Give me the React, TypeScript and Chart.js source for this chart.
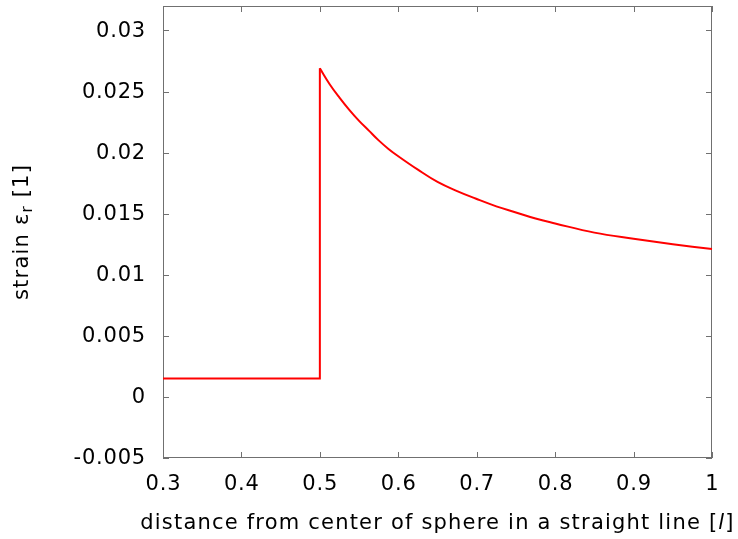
import React, { useEffect, useRef } from "react";
import { Chart, registerables } from "chart.js";

Chart.register(...registerables);

// Flat part inside the sphere and the jump at the surface
const xInner = [0.3, 0.5, 0.5];
const yInner = [0.0015, 0.0015, 0.0269];

// Decay outside the sphere
const xOuter = [0.5, 0.5125, 0.525, 0.5375, 0.55, 0.5625, 0.575, 0.5875, 0.6, 0.625, 0.65, 0.675, 0.7, 0.725, 0.75, 0.775, 0.8, 0.85, 0.9, 0.95, 1.0];
const yOuter = [0.0269, 0.0256, 0.0245, 0.0235, 0.0226, 0.0218, 0.021, 0.0203, 0.0197, 0.0186, 0.0176, 0.01685, 0.0162, 0.0156, 0.0151, 0.0146, 0.0142, 0.01345, 0.01295, 0.0125, 0.0121];

const xTicks = [0.3, 0.4, 0.5, 0.6, 0.7, 0.8, 0.9, 1.0];
const yTicks = [-0.005, 0, 0.005, 0.01, 0.015, 0.02, 0.025, 0.03];

const X_MIN = 0.3, X_MAX = 1.0, Y_MIN = -0.005, Y_MAX = 0.032;
const FONT = "DejaVu Sans";
const FRAME = "#707070";
const FS = 21;

const fmt = (v: number) => String(parseFloat(v.toFixed(4)));

const setFont = (ctx: any, size: number, italic = false, spacing = 0) => {
  ctx.font = `${italic ? "italic " : ""}${size}px "${FONT}"`;
  ctx.letterSpacing = `${spacing}px`;
};

const framePlugin = {
  id: "gnuplotFrame",
  beforeDatasetsDraw(chart: any) {
    const { ctx, chartArea: a, scales } = chart;
    ctx.save();
    ctx.strokeStyle = FRAME;
    ctx.lineWidth = 1;
    ctx.strokeRect(a.left + 0.5, a.top + 0.5, a.right - a.left - 1, a.bottom - a.top - 1);
    const tl = 6;
    ctx.beginPath();
    for (const v of xTicks) {
      const x = Math.round(scales.x.getPixelForValue(v)) + 0.5;
      ctx.moveTo(x, a.bottom); ctx.lineTo(x, a.bottom - tl);
      ctx.moveTo(x, a.top); ctx.lineTo(x, a.top + tl);
    }
    for (const v of yTicks) {
      const y = Math.round(scales.y.getPixelForValue(v)) + 0.5;
      ctx.moveTo(a.left, y); ctx.lineTo(a.left + tl, y);
      ctx.moveTo(a.right, y); ctx.lineTo(a.right - tl, y);
    }
    ctx.stroke();

    // tick labels
    ctx.fillStyle = "#000";
    ctx.textBaseline = "middle";
    setFont(ctx, FS, false, 0.8);
    ctx.textAlign = "right";
    for (const v of yTicks) {
      const y = scales.y.getPixelForValue(v);
      ctx.fillText(fmt(v), a.left - 17, y + 1);
    }
    ctx.textAlign = "center";
    for (const v of xTicks) {
      const x = scales.x.getPixelForValue(v);
      ctx.fillText(fmt(v), x + 0.4, a.bottom + 27);
    }
    ctx.restore();
  },
  afterDraw(chart: any) {
    const { ctx, chartArea: a } = chart;
    ctx.save();
    ctx.fillStyle = "#000";
    ctx.textBaseline = "middle";
    ctx.textAlign = "left";
    // x title
    const sp = 1.2;
    const p1 = "distance from center of sphere in a straight line [";
    const p2 = "l";
    const p3 = "]";
    setFont(ctx, FS, false, sp);
    const w1 = ctx.measureText(p1).width;
    const w3 = ctx.measureText(p3).width;
    setFont(ctx, FS, true, sp);
    const w2 = ctx.measureText(p2).width;
    let x = (a.left + a.right) / 2 - (w1 + w2 + w3) / 2;
    const y = 524;
    setFont(ctx, FS, false, sp);
    ctx.fillText(p1, x, y); x += w1;
    setFont(ctx, FS, true, sp);
    ctx.fillText(p2, x, y); x += w2;
    setFont(ctx, FS, false, sp);
    ctx.fillText(p3, x, y);

    // y title, rotated
    const q1 = "strain ε";
    const q2 = "r";
    const q3 = " [1]";
    const sub = 15;
    setFont(ctx, FS, false, sp);
    const v1 = ctx.measureText(q1).width;
    const v3 = ctx.measureText(q3).width;
    setFont(ctx, sub, false, sp);
    const v2 = ctx.measureText(q2).width;
    ctx.translate(23, (a.top + a.bottom) / 2);
    ctx.rotate(-Math.PI / 2);
    let t = -(v1 + v2 + v3) / 2;
    setFont(ctx, FS, false, sp);
    ctx.fillText(q1, t, 0); t += v1;
    setFont(ctx, sub, false, sp);
    ctx.fillText(q2, t, 5); t += v2;
    setFont(ctx, FS, false, sp);
    ctx.fillText(q3, t, 0);
    ctx.restore();
  },
};

export default function App() {
  const ref = useRef<HTMLCanvasElement>(null);
  useEffect(() => {
    if (!ref.current) return;
    const zeroPad = (s: any) => {
      s.paddingTop = 0; s.paddingBottom = 0; s.paddingLeft = 0; s.paddingRight = 0;
    };
    const chart = new Chart(ref.current, {
      type: "line",
      data: {
        datasets: [
          {
            data: xInner.map((x, i) => ({ x, y: yInner[i] })),
            borderColor: "#ff0000",
            borderWidth: 2,
            pointRadius: 0,
            tension: 0,
            clip: 3,
          },
          {
            data: xOuter.map((x, i) => ({ x, y: yOuter[i] })),
            borderColor: "#ff0000",
            borderWidth: 2,
            pointRadius: 0,
            tension: 0.4,
            clip: 3,
          },
        ],
      },
      options: {
        animation: false,
        responsive: true,
        maintainAspectRatio: false,
        layout: { padding: { top: 6, right: 26, bottom: 0, left: 0 } },
        plugins: { legend: { display: false }, tooltip: { enabled: false } },
        scales: {
          x: {
            type: "linear",
            min: X_MIN,
            max: X_MAX,
            border: { display: false },
            grid: { display: false, drawTicks: false },
            afterBuildTicks: (s: any) => { s.ticks = xTicks.map((v) => ({ value: v })); },
            afterFit: (s: any) => { s.height = 81; zeroPad(s); },
            ticks: { display: false },
          },
          y: {
            type: "linear",
            min: Y_MIN,
            max: Y_MAX,
            border: { display: false },
            grid: { display: false, drawTicks: false },
            afterBuildTicks: (s: any) => { s.ticks = yTicks.map((v) => ({ value: v })); },
            afterFit: (s: any) => { s.width = 163; zeroPad(s); },
            ticks: { display: false },
          },
        },
      },
      plugins: [framePlugin],
    });
    return () => chart.destroy();
  }, []);
  return (
    <div style={{ position: "absolute", left: 0, top: 0, width: 738, height: 539, background: "#fff" }}>
      <canvas ref={ref} />
    </div>
  );
}
